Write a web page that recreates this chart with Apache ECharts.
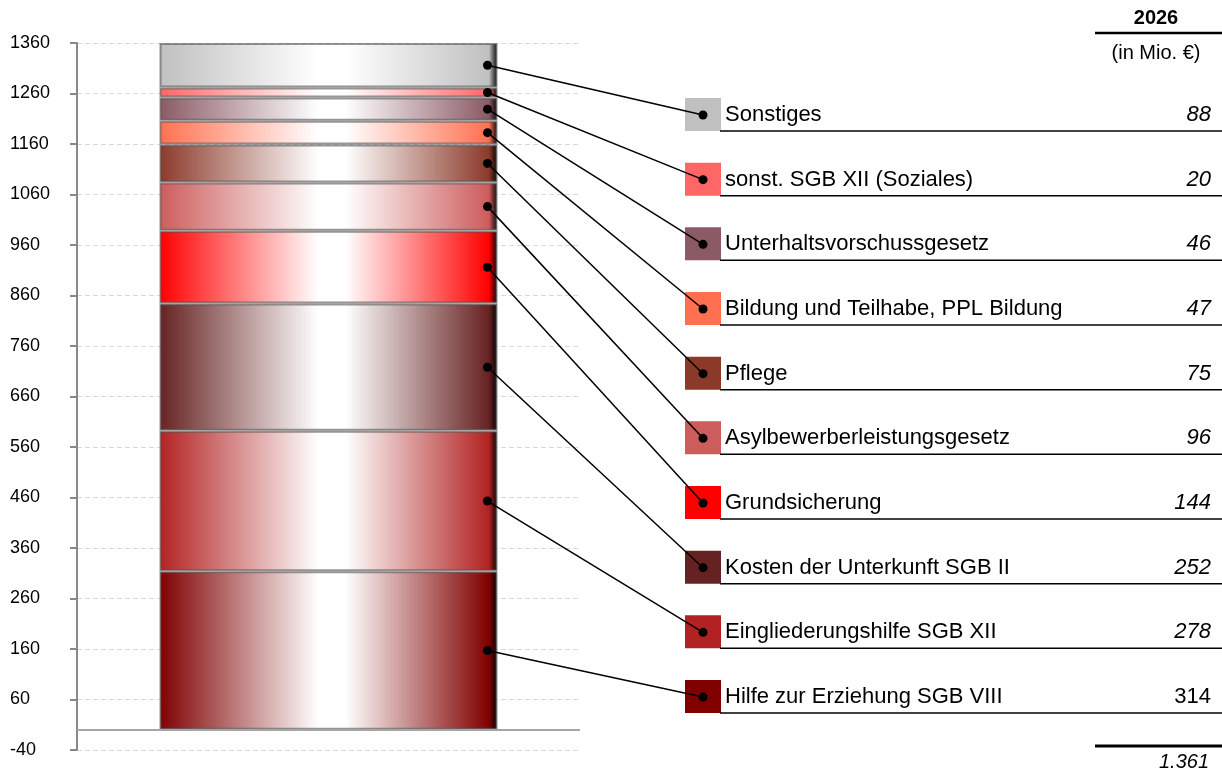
<!DOCTYPE html>
<html>
<head>
<meta charset="utf-8">
<script src="https://cdn.jsdelivr.net/npm/echarts@6/dist/echarts.min.js"></script>
<style>
  html, body { margin: 0; padding: 0; background: #fff; }
  #chart { width: 1222px; height: 773px; }
</style>
</head>
<body>
<div id="chart"></div>
<script>
// stack order from bottom to top
const categories = [
  'Hilfe zur Erziehung SGB VIII',
  'Eingliederungshilfe SGB XII',
  'Kosten der Unterkunft SGB II',
  'Grundsicherung',
  'Asylbewerberleistungsgesetz',
  'Pflege',
  'Bildung und Teilhabe, PPL Bildung',
  'Unterhaltsvorschussgesetz',
  'sonst. SGB XII (Soziales)',
  'Sonstiges'
];
const values = [314, 278, 252, 144, 96, 75, 47, 46, 20, 88];
const colors = ['#800000', '#b22222', '#662222', '#ff0000', '#cd5c5c',
                '#8b3a2a', '#ff7050', '#8b5a64', '#ff6666', '#c0c0c0'];
const yearLabel = '2026';
const unitLabel = '(in Mio. €)';
const total = 1361;

// axis labels start at -40, so the axis is shifted by this offset
const OFFSET = 40;

const chart = echarts.init(document.getElementById('chart'));
const FONT = 'Liberation Sans, Arial, sans-serif';
const BAR_W = 338;

function barGradient(c) {
  return new echarts.graphic.LinearGradient(0, 0, 1, 0, [
    { offset: 0, color: c },
    { offset: 0.47, color: '#ffffff' },
    { offset: 0.55, color: '#ffffff' },
    { offset: 0.975, color: c },
    { offset: 1, color: '#000000' }
  ]);
}

const series = [{
  name: 'base',
  type: 'bar',
  stack: 'total',
  barWidth: BAR_W,
  data: [OFFSET],
  itemStyle: { color: 'rgba(0,0,0,0)' },
  silent: true,
  markLine: {
    silent: true,
    symbol: 'none',
    label: { show: false },
    lineStyle: { color: '#a6a6a6', type: 'solid', width: 2 },
    data: [{ yAxis: OFFSET }]
  }
}];
categories.forEach((name, i) => {
  series.push({
    name: name,
    type: 'bar',
    stack: 'total',
    barWidth: BAR_W,
    data: [values[i]],
    itemStyle: {
      color: barGradient(colors[i]),
      borderColor: 'rgba(80,80,80,0.6)',
      borderWidth: 2
    }
  });
});

chart.setOption({
  animation: false,
  grid: { left: 77, right: 642, top: 43, bottom: 23 },
  xAxis: {
    type: 'category',
    data: [yearLabel],
    axisLine: { show: false },
    axisTick: { show: false },
    axisLabel: { show: false }
  },
  yAxis: {
    type: 'value',
    min: 0,
    max: 1400,
    interval: 100,
    axisLine: { show: true, lineStyle: { color: '#888', width: 2 } },
    axisTick: { show: true, length: 7, lineStyle: { color: '#888', width: 2 } },
    axisLabel: {
      formatter: v => String(v - OFFSET),
      color: '#000',
      fontFamily: FONT,
      fontSize: 18,
      align: 'left',
      margin: 67
    },
    splitLine: { lineStyle: { color: '#d9d9d9', type: [5, 3], width: 1 } }
  },
  series: series
});

// connectors, legend table and header
const g = [];
const center = chart.convertToPixel({ gridIndex: 0 }, [0, 0]);
const dotX = center[0] + BAR_W / 2 - 10;
const rowTop = 115, rowStep = 64.67;
let cum = OFFSET;
categories.forEach((name, i) => {
  const mid = cum + values[i] / 2;
  cum += values[i];
  const py = chart.convertToPixel({ gridIndex: 0 }, [0, mid])[1];
  const row = categories.length - 1 - i;
  const ry = rowTop + row * rowStep;
  g.push({ type: 'rect', shape: { x: 685, y: ry - 17, width: 36, height: 33 },
           style: { fill: colors[i] }, z: 10 });
  g.push({ type: 'line', shape: { x1: dotX, y1: py, x2: 703, y2: ry },
           style: { stroke: '#000', lineWidth: 1.5 }, z: 20 });
  g.push({ type: 'circle', shape: { cx: dotX, cy: py, r: 4.5 }, style: { fill: '#000' }, z: 21 });
  g.push({ type: 'circle', shape: { cx: 703, cy: ry, r: 4.5 }, style: { fill: '#000' }, z: 21 });
  g.push({ type: 'text', x: 725, y: ry,
           style: { text: name, font: '22px ' + FONT, fill: '#000', align: 'left', verticalAlign: 'middle' }, z: 10 });
  g.push({ type: 'text', x: 1211, y: ry,
           style: { text: String(values[i]), font: (i === 0 ? '' : 'italic ') + '22px ' + FONT,
                    fill: '#000', align: 'right', verticalAlign: 'middle' }, z: 10 });
  g.push({ type: 'line', shape: { x1: 720, y1: ry + 16, x2: 1222, y2: ry + 16 },
           style: { stroke: '#000', lineWidth: 1.5 }, z: 10 });
});
g.push({ type: 'text', x: 1156, y: 18,
         style: { text: yearLabel, font: 'bold 20px ' + FONT, fill: '#000', align: 'center', verticalAlign: 'middle' } });
g.push({ type: 'line', shape: { x1: 1095, y1: 33, x2: 1222, y2: 33 }, style: { stroke: '#000', lineWidth: 2.5 } });
g.push({ type: 'text', x: 1156, y: 53,
         style: { text: unitLabel, font: '20px ' + FONT, fill: '#000', align: 'center', verticalAlign: 'middle' } });
g.push({ type: 'line', shape: { x1: 1095, y1: 746, x2: 1222, y2: 746 }, style: { stroke: '#000', lineWidth: 3 } });
g.push({ type: 'text', x: 1209, y: 762,
         style: { text: total.toLocaleString('de-DE'), font: 'italic 20px ' + FONT, fill: '#000',
                  align: 'right', verticalAlign: 'middle' } });

chart.setOption({ graphic: g });
</script>
</body>
</html>
